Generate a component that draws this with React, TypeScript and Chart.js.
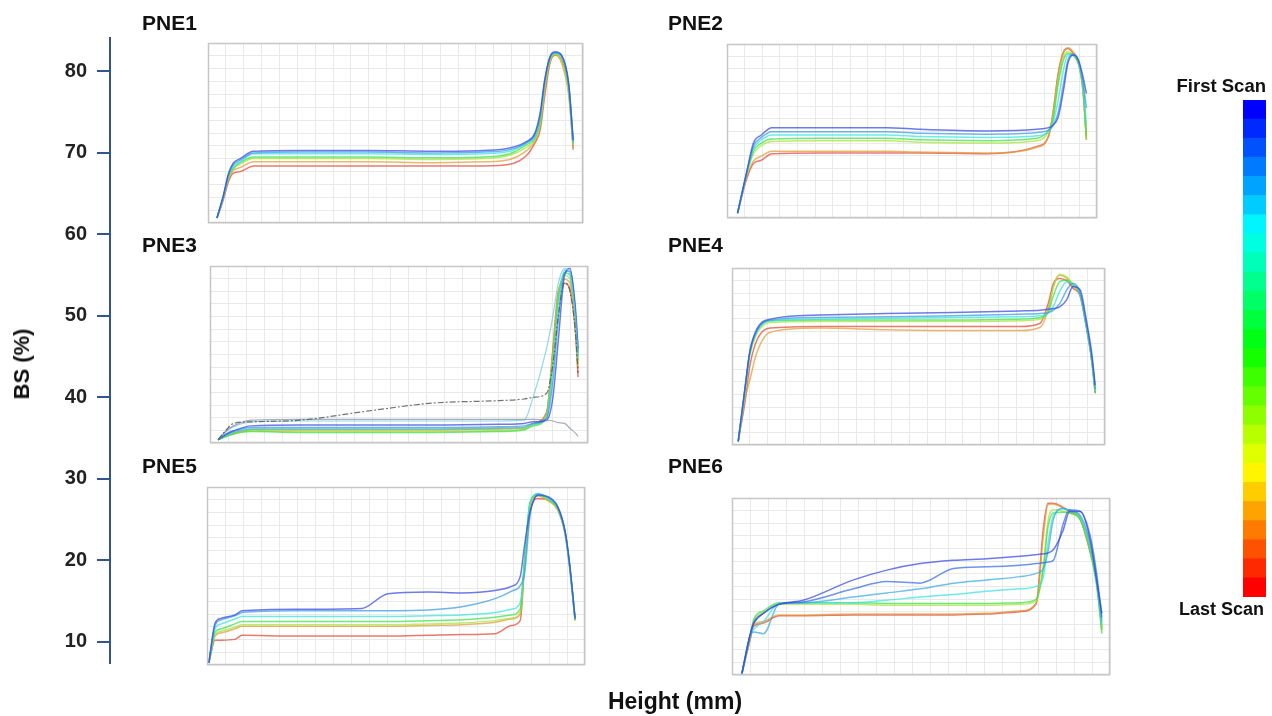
import React, { useEffect, useRef } from 'react';
import { Chart, registerables } from 'chart.js';
Chart.register(...registerables);

// ---------------- data ----------------
const yTicks = [10, 20, 30, 40, 50, 60, 70, 80];
const yAxisMin = 7.4;
const yAxisMax = 84.1;

const pne1Height = [1.0, 1.7, 2.3, 2.8, 3.6, 5.1, 10.3, 17.8, 25.2, 30.8, 33.8, 35.7, 36.6, 37.2, 37.7, 38.3, 38.9, 39.6, 40.4, 40.9];
const pne1Scans = [
  [62.0, 64.7, 67.5, 68.7, 69.3, 70.2, 70.3, 70.3, 70.2, 70.3, 70.6, 71.4, 72.4, 74.9, 78.9, 81.8, 82.4, 82.0, 78.5, 71.6],
  [62.0, 64.6, 67.3, 68.5, 69.1, 70.0, 70.1, 70.1, 70.0, 70.1, 70.4, 71.3, 72.2, 74.6, 78.7, 81.7, 82.3, 81.9, 78.3, 71.4],
  [62.0, 64.6, 67.2, 68.3, 68.9, 69.9, 69.9, 69.9, 69.8, 69.9, 70.2, 71.2, 72.0, 74.3, 78.6, 81.7, 82.3, 81.9, 78.2, 71.3],
  [62.0, 64.5, 67.1, 68.1, 68.8, 69.5, 69.5, 69.5, 69.4, 69.5, 69.9, 71.0, 71.8, 74.0, 78.5, 81.6, 82.2, 81.8, 78.1, 71.2],
  [62.0, 64.5, 67.0, 68.0, 68.6, 69.3, 69.3, 69.3, 69.2, 69.3, 69.7, 70.7, 71.6, 73.6, 78.0, 81.4, 82.1, 81.2, 77.3, 71.0],
  [62.0, 64.4, 66.8, 67.8, 68.2, 68.9, 68.9, 68.9, 68.8, 68.9, 69.2, 70.3, 71.4, 73.2, 77.5, 81.2, 82.0, 81.0, 77.1, 70.8],
  [62.0, 64.2, 66.5, 67.5, 67.7, 68.4, 68.4, 68.4, 68.4, 68.4, 68.6, 69.7, 71.2, 72.8, 76.9, 81.0, 82.0, 81.4, 77.7, 70.4],
];

const pne2Height = [1.2, 2.2, 3.0, 3.9, 5.1, 10.6, 18.1, 21.9, 29.5, 35.2, 36.5, 37.0, 37.6, 38.2, 38.7, 39.3, 39.9, 40.4, 40.8];
const pne2Scans = [
  [62.6, 67.5, 71.2, 72.2, 73.1, 73.1, 73.1, 72.9, 72.7, 72.9, 73.1, 73.4, 74.4, 77.7, 81.0, 82.0, 81.4, 79.4, 77.3],
  [62.6, 67.4, 70.8, 71.9, 72.6, 72.6, 72.6, 72.4, 72.3, 72.5, 72.8, 73.3, 75.0, 78.5, 81.4, 82.1, 81.2, 78.8, 75.5],
  [62.6, 67.4, 70.5, 71.6, 72.2, 72.2, 72.2, 72.0, 71.9, 72.1, 72.6, 73.6, 76.5, 80.2, 82.0, 82.0, 81.0, 78.3, 73.5],
  [62.6, 67.3, 70.2, 71.2, 71.7, 71.8, 71.8, 71.6, 71.5, 71.8, 72.8, 74.0, 78.5, 81.4, 82.2, 82.0, 81.0, 78.1, 72.0],
  [62.6, 67.2, 69.9, 70.9, 71.4, 71.5, 71.5, 71.3, 71.2, 71.5, 72.6, 74.4, 79.0, 81.8, 82.4, 82.0, 80.8, 77.8, 71.6],
  [62.6, 66.9, 69.0, 69.6, 70.2, 70.2, 70.2, 70.1, 70.0, 70.7, 72.1, 74.8, 79.6, 82.3, 82.9, 82.4, 81.2, 77.9, 71.8],
  [62.6, 66.7, 68.7, 69.1, 69.9, 70.0, 70.0, 70.0, 69.9, 70.8, 72.0, 74.9, 79.8, 82.4, 82.8, 82.2, 81.0, 77.7, 71.6],
];

const pne3Height = [0.9, 1.8, 2.6, 4.6, 10.0, 17.4, 24.8, 32.2, 34.9, 35.9, 37.4, 38.1, 38.7, 39.4, 40.0, 40.6, 40.9];
const pne3Scans = [
  [34.8, 35.5, 35.9, 36.5, 36.6, 36.6, 36.6, 36.7, 36.8, 37.0, 37.2, 40.0, 47.0, 55.0, 55.8, 51.0, 46.0],
  [34.8, 35.4, 35.8, 36.3, 36.3, 36.3, 36.3, 36.4, 36.5, 36.8, 37.4, 42.0, 49.5, 55.3, 55.5, 50.5, 45.5],
  [34.8, 35.3, 35.7, 36.1, 36.1, 36.1, 36.1, 36.2, 36.3, 36.7, 37.6, 43.5, 51.0, 55.6, 55.4, 50.0, 45.0],
  [34.8, 35.2, 35.5, 35.8, 35.7, 35.7, 35.7, 35.8, 36.0, 36.5, 37.6, 44.5, 52.0, 55.3, 55.0, 49.5, 44.5],
  [34.8, 35.2, 35.5, 35.9, 35.8, 35.8, 35.8, 35.9, 36.1, 36.6, 37.8, 45.0, 52.5, 55.0, 54.5, 49.0, 44.0],
  [34.8, 35.3, 35.6, 36.0, 36.0, 36.0, 36.0, 36.1, 36.2, 36.7, 38.0, 45.5, 52.8, 54.5, 54.0, 48.5, 43.5],
  [34.8, 35.3, 35.6, 36.1, 36.1, 36.1, 36.1, 36.2, 36.3, 36.8, 38.2, 46.0, 53.0, 54.0, 53.2, 48.0, 42.5],
];
const pne3Reference = [
  [34.8, 36.0, 36.8, 37.0, 37.2, 38.3, 39.3, 39.6, 39.8, 40.0, 40.5, 44.0, 50.0, 54.0, 53.0, 48.0, 43.0],
  [34.8, 35.9, 36.5, 37.2, 37.3, 37.3, 37.3, 37.3, 37.3, 37.3, 37.2, 37.1, 36.9, 36.8, 36.2, 35.6, 35.2],
  [34.8, 35.8, 36.4, 37.0, 37.1, 37.1, 37.1, 37.1, 37.2, 40.0, 46.0, 50.0, 54.0, 55.8, 55.0, 50.0, 45.0],
];

const pne4Height = [0.7, 1.5, 2.0, 2.8, 4.3, 9.9, 17.4, 24.9, 32.4, 34.7, 35.6, 36.2, 36.9, 37.7, 38.4, 39.2, 39.9, 40.5, 40.9];
const pne4Scans = [
  [34.6, 41.5, 45.6, 48.4, 49.6, 50.1, 50.3, 50.4, 50.6, 50.7, 50.8, 50.9, 51.1, 52.0, 53.6, 53.2, 49.5, 45.5, 41.5],
  [34.6, 41.4, 45.5, 48.2, 49.5, 49.8, 49.9, 50.0, 50.2, 50.3, 50.4, 50.7, 51.5, 53.2, 54.0, 52.8, 49.0, 45.0, 41.0],
  [34.6, 41.3, 45.4, 48.1, 49.4, 49.6, 49.7, 49.8, 49.9, 50.0, 50.3, 51.2, 53.0, 54.2, 53.9, 52.6, 48.8, 44.8, 40.8],
  [34.6, 41.3, 45.4, 48.1, 49.4, 49.5, 49.5, 49.5, 49.6, 49.8, 50.5, 52.5, 54.2, 54.4, 53.8, 52.6, 48.7, 44.6, 40.5],
  [34.6, 41.0, 45.0, 47.8, 49.2, 49.3, 49.3, 49.3, 49.4, 49.6, 50.6, 53.5, 55.1, 54.8, 53.9, 52.8, 48.9, 44.8, 40.8],
  [34.6, 40.0, 42.1, 45.5, 48.0, 48.5, 48.3, 48.2, 48.2, 48.6, 50.8, 53.8, 55.0, 54.6, 53.6, 52.6, 48.8, 44.7, 40.7],
  [34.6, 39.7, 43.8, 47.0, 48.5, 48.7, 48.7, 48.7, 48.7, 49.1, 51.5, 54.0, 54.6, 54.3, 53.4, 52.4, 48.6, 44.5, 40.5],
];

const pne5Height = [0.2, 0.9, 1.6, 3.1, 3.9, 9.8, 17.2, 20.1, 24.6, 28.3, 32.0, 33.8, 34.8, 35.3, 35.9, 36.8, 37.9, 39.0, 39.8, 40.3, 40.9];
const pne5Scans = [
  [7.4, 12.3, 12.9, 13.3, 13.8, 14.0, 14.1, 15.9, 16.1, 16.0, 16.3, 16.8, 18.0, 22.0, 26.0, 28.0, 27.8, 26.5, 23.5, 19.5, 12.9],
  [7.4, 12.0, 12.7, 13.2, 13.6, 13.8, 13.8, 13.8, 13.9, 14.3, 15.3, 16.2, 16.9, 18.5, 25.5, 28.1, 27.7, 26.5, 23.5, 19.4, 12.8],
  [7.4, 11.6, 12.2, 12.8, 13.1, 13.1, 13.1, 13.1, 13.2, 13.3, 13.6, 14.0, 14.8, 20.0, 27.0, 28.2, 27.6, 26.4, 23.4, 19.3, 12.8],
  [7.4, 11.2, 11.6, 12.2, 12.5, 12.5, 12.5, 12.5, 12.6, 12.7, 13.0, 13.3, 14.0, 20.5, 27.2, 28.1, 27.5, 26.3, 23.3, 19.2, 12.7],
  [7.4, 10.9, 11.3, 11.8, 12.1, 12.1, 12.1, 12.1, 12.2, 12.3, 12.6, 12.9, 13.6, 20.0, 27.0, 28.0, 27.4, 26.2, 23.2, 19.1, 12.6],
  [7.4, 10.7, 11.1, 11.6, 11.9, 11.9, 11.9, 11.9, 12.0, 12.1, 12.4, 12.8, 13.4, 19.8, 26.8, 27.9, 27.3, 26.1, 23.1, 19.0, 12.6],
  [7.4, 10.2, 10.2, 10.3, 10.8, 10.7, 10.7, 10.7, 10.8, 10.9, 11.0, 12.0, 12.6, 19.6, 26.0, 27.6, 27.4, 26.2, 23.3, 19.2, 12.7],
];

const pne6Height = [1.1, 2.0, 2.4, 3.5, 5.2, 7.9, 13.5, 17.2, 20.9, 24.6, 28.3, 32.0, 33.8, 34.6, 35.1, 35.7, 36.8, 37.5, 38.7, 39.8, 40.5, 41.1];
const pne6Scans = [
  [6.1, 10.8, 12.3, 13.5, 14.6, 15.1, 17.6, 18.8, 19.6, 20.0, 20.2, 20.5, 20.7, 20.8, 20.9, 21.3, 23.7, 26.0, 26.0, 22.5, 17.6, 13.5],
  [6.1, 10.8, 12.2, 13.5, 14.6, 14.9, 16.5, 17.4, 17.2, 19.0, 19.2, 19.4, 19.6, 19.7, 19.8, 20.0, 24.5, 26.2, 26.0, 23.0, 18.5, 13.0],
  [6.1, 10.7, 11.2, 11.0, 14.6, 14.8, 15.5, 16.0, 16.5, 17.2, 17.6, 18.0, 18.4, 19.0, 21.0, 25.0, 26.4, 26.1, 25.5, 22.0, 17.8, 12.5],
  [6.1, 10.7, 11.5, 12.5, 14.7, 14.8, 14.8, 15.1, 15.5, 15.8, 16.2, 16.5, 16.8, 18.0, 22.0, 25.5, 26.3, 26.1, 25.3, 21.8, 17.5, 12.0],
  [6.1, 10.6, 12.7, 13.8, 14.8, 14.8, 14.8, 14.7, 14.7, 14.7, 14.7, 14.8, 15.2, 19.0, 24.0, 25.8, 25.9, 25.8, 25.0, 21.0, 17.0, 11.0],
  [6.1, 10.6, 12.5, 13.6, 14.6, 14.6, 14.6, 14.5, 14.5, 14.5, 14.5, 14.6, 15.0, 19.5, 24.8, 26.2, 26.0, 25.8, 25.0, 21.2, 17.3, 11.5],
  [6.1, 10.3, 12.0, 12.5, 13.3, 13.3, 13.4, 13.4, 13.4, 13.4, 13.5, 13.8, 14.7, 23.0, 26.8, 26.9, 26.4, 26.0, 25.2, 21.5, 17.8, 12.0],
  [6.1, 10.2, 11.9, 12.3, 13.2, 13.2, 13.3, 13.3, 13.3, 13.3, 13.4, 13.7, 14.7, 24.0, 27.0, 27.0, 26.5, 26.0, 25.0, 21.0, 17.5, 11.5],
];

const colorbarScanCount = 26;

// ---------------- layout / style ----------------
const FIG_W = 1272;
const FIG_H = 716;
const AXIS_TOP = 38;
const AXIS_BOTTOM = 663;
const AXIS_LEFT = 110;
const AXIS_COLOR = '#34548f';
const FONT = '"Liberation Sans", Arial, Helvetica, sans-serif';

const hues7 = [235, 205, 180, 125, 80, 35, 5];
const hues8 = [235, 222, 200, 180, 125, 80, 35, 5];
const lineColor = (h: number) => `hsla(${h}, 75%, 55%, 0.72)`;

const pxToValue = (px: number) =>
  yAxisMax - ((px - AXIS_TOP) / (AXIS_BOTTOM - AXIS_TOP)) * (yAxisMax - yAxisMin);

type Box = { left: number; top: number; right: number; bottom: number };

const panels = [
  { title: 'PNE1', heights: pne1Height, scans: pne1Scans, hues: hues7, extra: null as null | number[][], box: { left: 208, top: 43, right: 583, bottom: 223 }, tl: { left: 142, top: 11 } },
  { title: 'PNE2', heights: pne2Height, scans: pne2Scans, hues: hues7, extra: null, box: { left: 727, top: 44, right: 1097, bottom: 218 }, tl: { left: 668, top: 11 } },
  { title: 'PNE3', heights: pne3Height, scans: pne3Scans, hues: hues7, extra: pne3Reference, box: { left: 210, top: 266, right: 588, bottom: 443 }, tl: { left: 142, top: 233 } },
  { title: 'PNE4', heights: pne4Height, scans: pne4Scans, hues: hues7, extra: null, box: { left: 732, top: 268, right: 1105, bottom: 445 }, tl: { left: 668, top: 233 } },
  { title: 'PNE5', heights: pne5Height, scans: pne5Scans, hues: hues7, extra: null, box: { left: 207, top: 487, right: 585, bottom: 665 }, tl: { left: 142, top: 454 } },
  { title: 'PNE6', heights: pne6Height, scans: pne6Scans, hues: hues8, extra: null, box: { left: 732, top: 498, right: 1110, bottom: 675 }, tl: { left: 668, top: 454 } },
];

const extraStyles = [
  { color: 'rgba(80,80,80,0.8)', dash: [6, 2, 2, 2] },
  { color: 'rgba(120,130,150,0.65)', dash: [] as number[] },
  { color: 'rgba(110,200,230,0.75)', dash: [] as number[] },
];

const framePlugin = {
  id: 'frame',
  afterDatasetsDraw(chart: any) {
    const { ctx, chartArea: a } = chart;
    ctx.save();
    ctx.strokeStyle = '#c6c6c6';
    ctx.lineWidth = 1.5;
    ctx.strokeRect(a.left + 0.5, a.top + 0.5, a.right - a.left - 1, a.bottom - a.top - 1);
    ctx.restore();
  },
};

function AxisChart() {
  const ref = useRef<HTMLCanvasElement>(null);
  useEffect(() => {
    const chart = new Chart(ref.current!, {
      type: 'line',
      data: { datasets: [] },
      options: {
        responsive: false,
        animation: false,
        layout: { padding: { top: AXIS_TOP, right: 32, bottom: 0, left: 0 } },
        plugins: { legend: { display: false }, tooltip: { enabled: false } },
        scales: {
          x: {
            type: 'linear',
            min: 0,
            max: 1,
            ticks: { display: false },
            grid: { display: false, drawTicks: false },
            border: { display: false },
            title: { display: true, text: 'Height (mm)', color: '#111', font: { family: FONT, size: 23, weight: 'bold' }, padding: { top: 0, bottom: 0 } },
            afterFit: (s: any) => { s.height = FIG_H - AXIS_BOTTOM; },
          },
          y: {
            type: 'linear',
            position: 'left',
            min: yAxisMin,
            max: yAxisMax,
            afterBuildTicks: (s: any) => { s.ticks = yTicks.map((v) => ({ value: v })); },
            ticks: { color: '#222', padding: 10, font: { family: FONT, size: 20, weight: 'bold' } },
            grid: { display: true, drawOnChartArea: false, drawTicks: true, tickLength: 13, color: AXIS_COLOR, lineWidth: 2 },
            border: { display: true, color: AXIS_COLOR, width: 2 },
            title: { display: false },
            afterFit: (s: any) => { s.width = AXIS_LEFT; },
          },
        },
      } as any,
    });
    return () => chart.destroy();
  }, []);
  return <canvas ref={ref} width={FIG_W} height={FIG_H} style={{ position: 'absolute', left: 0, top: 0 }} />;
}

function Panel({ p }: { p: (typeof panels)[number] }) {
  const ref = useRef<HTMLCanvasElement>(null);
  const b: Box = p.box;
  const w = b.right - b.left;
  const h = b.bottom - b.top;
  useEffect(() => {
    const datasets: any[] = [];
    if (p.extra) {
      p.extra.forEach((vals, i) => {
        datasets.push({
          data: p.heights.map((x, k) => ({ x, y: vals[k] })),
          borderColor: extraStyles[i].color,
          borderDash: extraStyles[i].dash,
          borderWidth: 1.2,
          pointRadius: 0,
          cubicInterpolationMode: 'monotone',
        });
      });
    }
    p.scans.forEach((vals, i) => {
      datasets.push({
        data: p.heights.map((x, k) => ({ x, y: vals[k] })),
        borderColor: lineColor(p.hues[i]),
        borderWidth: 1.5,
        pointRadius: 0,
        cubicInterpolationMode: 'monotone',
      });
    });
    const chart = new Chart(ref.current!, {
      type: 'line',
      data: { datasets },
      options: {
        responsive: false,
        animation: false,
        layout: { padding: 2 },
        plugins: { legend: { display: false }, tooltip: { enabled: false } },
        scales: {
          x: {
            type: 'linear',
            min: 0,
            max: 42,
            ticks: { display: false, stepSize: 2 },
            grid: { color: '#e9e9e9', lineWidth: 1, drawTicks: false },
            border: { display: false },
          },
          y: {
            type: 'linear',
            min: pxToValue(b.bottom),
            max: pxToValue(b.top),
            ticks: { display: false, count: 15 },
            grid: { color: '#e9e9e9', lineWidth: 1, drawTicks: false },
            border: { display: false },
          },
        },
      } as any,
      plugins: [framePlugin],
    });
    return () => chart.destroy();
  }, []);
  return (
    <canvas
      ref={ref}
      width={w + 4}
      height={h + 4}
      style={{ position: 'absolute', left: b.left - 2, top: b.top - 2 }}
    />
  );
}

function ColorBar() {
  const ref = useRef<HTMLCanvasElement>(null);
  useEffect(() => {
    const datasets: any[] = [];
    for (let i = 0; i < colorbarScanCount; i++) {
      // i = 0 is the last scan (bottom, red); top is the first scan (blue)
      const hue = (240 * i) / (colorbarScanCount - 1);
      datasets.push({
        data: [1],
        backgroundColor: `hsl(${hue}, 100%, 50%)`,
        borderWidth: 0,
        barPercentage: 1,
        categoryPercentage: 1,
      });
    }
    const chart = new Chart(ref.current!, {
      type: 'bar',
      data: { labels: [''], datasets },
      options: {
        responsive: false,
        animation: false,
        layout: { padding: 0 },
        plugins: { legend: { display: false }, tooltip: { enabled: false } },
        scales: {
          x: { display: false, stacked: true },
          y: { display: false, stacked: true, min: 0, max: colorbarScanCount },
        },
      } as any,
    });
    return () => chart.destroy();
  }, []);
  return <canvas ref={ref} width={23} height={497} style={{ position: 'absolute', left: 1243, top: 100 }} />;
}

const titleStyle = (left: number, top: number): React.CSSProperties => ({
  position: 'absolute',
  left,
  top,
  fontFamily: FONT,
  fontWeight: 'bold',
  fontSize: 21,
  lineHeight: '24px',
  color: '#111',
  whiteSpace: 'nowrap',
});

export default function App() {
  return (
    <div style={{ position: 'absolute', left: 0, top: 0, width: FIG_W, height: FIG_H, background: '#fff', overflow: 'hidden' }}>
      <AxisChart />
      <div
        style={{
          position: 'absolute',
          left: 22,
          top: 364,
          width: 0,
          height: 0,
        }}
      >
        <div
          style={{
            position: 'absolute',
            left: 0,
            top: 0,
            transform: 'translate(-50%, -50%) rotate(-90deg)',
            fontFamily: FONT,
            fontWeight: 'bold',
            fontSize: 22,
            lineHeight: '24px',
            color: '#111',
            whiteSpace: 'nowrap',
          }}
        >
          BS (%)
        </div>
      </div>
      {panels.map((p) => (
        <Panel key={p.title} p={p} />
      ))}
      {panels.map((p) => (
        <div key={p.title + '-t'} style={titleStyle(p.tl.left, p.tl.top)}>{p.title}</div>
      ))}
      <ColorBar />
      <div style={{ position: 'absolute', right: 6, top: 76, fontFamily: FONT, fontWeight: 'bold', fontSize: 18.5, lineHeight: '20px', color: '#111', whiteSpace: 'nowrap' }}>First Scan</div>
      <div style={{ position: 'absolute', right: 8, top: 599, fontFamily: FONT, fontWeight: 'bold', fontSize: 18, lineHeight: '20px', color: '#111', whiteSpace: 'nowrap' }}>Last Scan</div>
    </div>
  );
}
